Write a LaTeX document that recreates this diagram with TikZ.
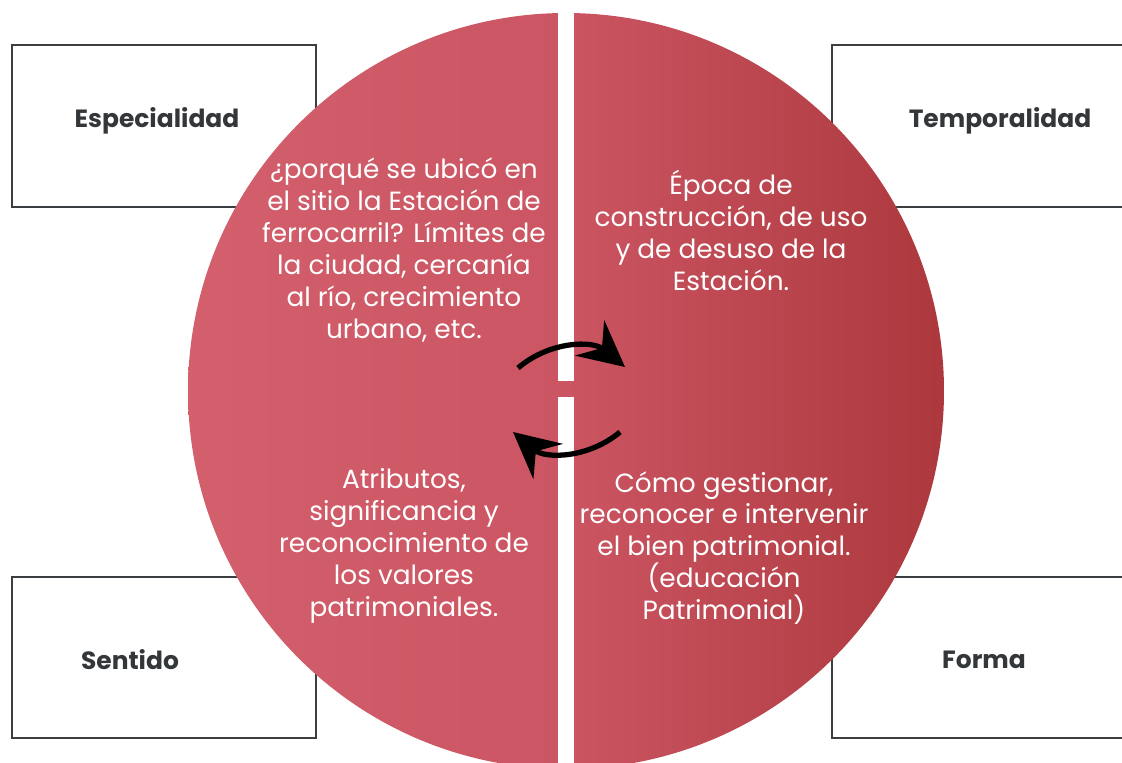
\documentclass[tikz,border=0pt]{standalone}
\usepackage{fontspec}
\setmainfont{Poppins}
\usetikzlibrary{arrows.meta}
\definecolor{roseleft}{RGB}{212,96,109}
\definecolor{rosemid}{RGB}{203,85,98}
\definecolor{roseright}{RGB}{172,56,61}
\definecolor{framegray}{RGB}{60,63,66}
\definecolor{labelgray}{RGB}{52,55,58}
\tikzset{
  aspectbox/.style={draw=framegray, line width=1.2pt, fill=white},
  aspect/.style={text=labelgray, font=\bfseries\fontsize{14.2}{16}\selectfont},
  question/.style={text=white, align=center, font=\fontsize{15}{18.2}\selectfont},
  cycle/.style={line width=3pt, -{Stealth[length=26pt, width=26pt, inset=9pt]}}
}
\begin{document}
\begin{tikzpicture}[x=0.02cm, y=-0.02cm]
    \useasboundingbox (0,0) rectangle (1122,762);
    % Boxes
    \draw[aspectbox] (12,45) rectangle (316,207);
    \draw[aspectbox] (832,45) rectangle (1150,207);
    \draw[aspectbox] (12,577) rectangle (316,738);
    \draw[aspectbox] (832,577) rectangle (1150,738);
    \node[aspect] (space) at (157,121) {Especialidad};
    \node[aspect] (time) at (1000,121) {Temporalidad};
    \node[aspect] (sense) at (130,660) {Sentido};
    \node[aspect] (form) at (984,660) {Forma};
    % Circle halves
    \begin{scope}
      \clip (566,391) circle (378);
      \shade[left color=roseleft, right color=rosemid] (180,0) rectangle (566,780);
      \shade[left color=rosemid, right color=roseright] (566,0) rectangle (950,780);
    \end{scope}
    % Gap
    \fill[white] (558,0) rectangle (574,381);
    \fill[white] (558,397) rectangle (574,780);
    % Texts
    \node[question] (where) at (404,250) {¿porqué se ubicó en\\el sitio la Estación de\\ferrocarril? Límites de\\la ciudad, cercanía\\al río, crecimiento\\urbano, etc.};
    \node[question] (when) at (731,230) {Época de\\construcción, de uso\\y de desuso de la\\Estación.};
    \node[question] (values) at (404,546) {Atributos,\\significancia y\\reconocimiento de\\los valores\\patrimoniales.};
    \node[question] (manage) at (724,548) {Cómo gestionar,\\reconocer e intervenir\\el bien patrimonial.\\(educación\\Patrimonial)};
    % Arrows
    \coordinate (upfrom) at (518,368);
    \coordinate (upto) at (625,367);
    \coordinate (downfrom) at (620,432);
    \coordinate (downto) at (513,432);
    \draw[cycle] (upfrom) to[bend left=40] (upto);
    \draw[cycle] (downfrom) to[bend left=40] (downto);
\end{tikzpicture}
\end{document}
